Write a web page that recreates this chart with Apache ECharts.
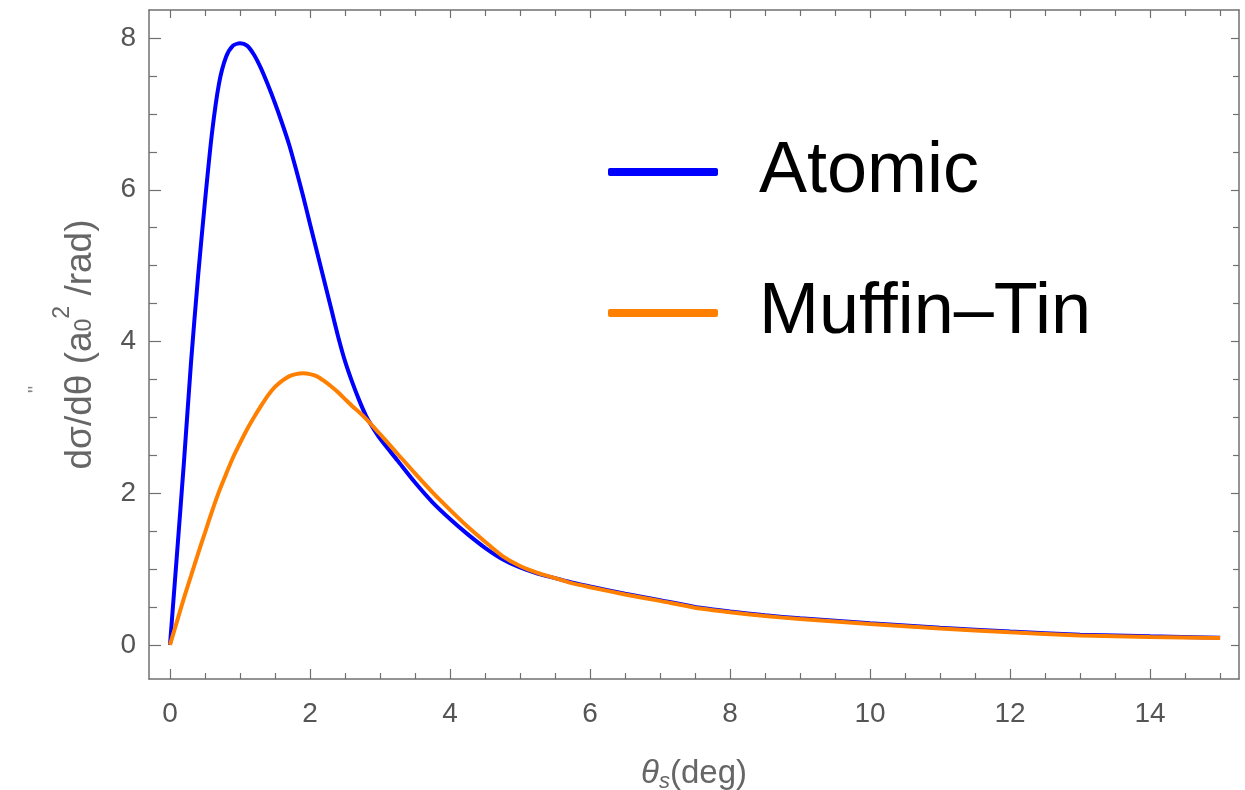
<!DOCTYPE html>
<html>
<head>
<meta charset="utf-8">
<script src="https://cdn.jsdelivr.net/npm/echarts@6/dist/echarts.min.js"></script>
<style>
  html, body { margin: 0; padding: 0; background: #ffffff; }
  #chart { width: 1245px; height: 790px; }
</style>
</head>
<body>
<div id="chart"></div>
<script>
// ---- data ----
const theta = [0, 0.1, 0.2, 0.3, 0.4, 0.5, 0.6, 0.7, 0.8, 0.9,
               1.0, 1.1, 1.2, 1.3, 1.4, 1.5, 1.6, 1.7, 1.8, 1.9,
               2.0, 2.1, 2.2, 2.3, 2.4, 2.5, 2.6, 2.7, 2.8, 2.9,
               3.0, 3.25, 3.5, 3.75, 4.0, 4.25, 4.5, 4.75, 5.0, 5.25,
               5.5, 5.75, 6.0, 6.5, 7.0, 7.5, 8.0, 8.5, 9.0, 10,
               11, 12, 13, 14, 15];
const atomic = [0, 1.2, 2.42, 3.72, 4.85, 5.85, 6.75, 7.4, 7.75, 7.9,
                7.93, 7.9, 7.78, 7.6, 7.38, 7.14, 6.88, 6.6, 6.27, 5.92,
                5.55, 5.18, 4.81, 4.44, 4.07, 3.74, 3.47, 3.23, 3.02, 2.86,
                2.72, 2.43, 2.14, 1.88, 1.66, 1.46, 1.28, 1.13, 1.02, 0.94,
                0.88, 0.82, 0.77, 0.675, 0.59, 0.5, 0.44, 0.39, 0.35, 0.285,
                0.225, 0.175, 0.135, 0.112, 0.095];
const muffinTin = [0, 0.31, 0.62, 0.91, 1.2, 1.48, 1.76, 2.02, 2.25, 2.47,
                   2.66, 2.84, 3.0, 3.15, 3.29, 3.4, 3.48, 3.54, 3.57, 3.58,
                   3.57, 3.54, 3.48, 3.41, 3.33, 3.24, 3.15, 3.07, 2.98, 2.88,
                   2.78, 2.52, 2.26, 2.01, 1.78, 1.56, 1.36, 1.17, 1.04, 0.95,
                   0.88, 0.81, 0.76, 0.665, 0.58, 0.49, 0.43, 0.38, 0.34, 0.275,
                   0.215, 0.165, 0.125, 0.105, 0.09];
const seriesNames = ['Atomic', 'Muffin\u2013Tin'];
const xMajorTicks = [0, 2, 4, 6, 8, 10, 12, 14];
const xMinorTicks = [0.5, 1, 1.5, 2.5, 3, 3.5, 4.5, 5, 5.5, 6.5, 7, 7.5, 8.5, 9, 9.5, 10.5, 11, 11.5, 12.5, 13, 13.5, 14.5, 15];
const yMajorTicks = [0, 2, 4, 6, 8];
const yMinorTicks = [0.5, 1, 1.5, 2.5, 3, 3.5, 4.5, 5, 5.5, 6.5, 7, 7.5];

// ---- chart ----
const X_MIN = -0.3, X_MAX = 15.27, Y_MIN = -0.45, Y_MAX = 8.37;
const FRAME = '#707070';
const LABEL = '#555555';
const TITLE = '#666666';
const FONT = '"Liberation Sans", Arial, sans-serif';

function pairs(xs, ys) { return xs.map((x, i) => [x, ys[i]]); }

function xAx(pos, ticks, len, showLine, labels, extra) {
  return Object.assign({
    type: 'value', position: pos, min: X_MIN, max: X_MAX, offset: 0,
    axisLine: { show: showLine, onZero: false, lineStyle: { color: FRAME, width: 1.5 } },
    axisTick: { show: true, inside: true, length: len, customValues: ticks, lineStyle: { color: FRAME, width: 1.2 } },
    axisLabel: labels ? { show: true, customValues: ticks, color: LABEL, fontSize: 28, fontFamily: FONT, margin: 21 } : { show: false },
    splitLine: { show: false }, minorTick: { show: false }
  }, extra || {});
}
function yAx(pos, ticks, len, showLine, labels, extra) {
  return Object.assign({
    type: 'value', position: pos, min: Y_MIN, max: Y_MAX, offset: 0,
    axisLine: { show: showLine, onZero: false, lineStyle: { color: FRAME, width: 1.5 } },
    axisTick: { show: true, inside: true, length: len, customValues: ticks, lineStyle: { color: FRAME, width: 1.2 } },
    axisLabel: labels ? { show: true, customValues: ticks, color: LABEL, fontSize: 28, fontFamily: FONT, margin: 13 } : { show: false },
    splitLine: { show: false }, minorTick: { show: false }
  }, extra || {});
}

const chart = echarts.init(document.getElementById('chart'), null, { renderer: 'canvas' });
chart.setOption({
  animation: false,
  backgroundColor: '#ffffff',
  grid: { left: 149, top: 10, right: 6, bottom: 111, containLabel: false, outerBoundsMode: 'none' },
  legend: {
    orient: 'vertical', left: 603, top: 127, itemWidth: 110, itemHeight: 8, itemGap: 61,
    icon: 'roundRect', selectedMode: false,
    textStyle: { fontSize: 72, lineHeight: 80, color: '#000000', fontFamily: FONT, padding: [0, 0, 0, 36] },
    data: seriesNames
  },
  xAxis: [
    xAx('bottom', xMajorTicks, 10, true, true, {
      name: '{t|\u03b8}{s|s}{d|(deg)}', nameLocation: 'middle', nameGap: 76,
      nameTextStyle: {
        color: TITLE, fontFamily: FONT,
        rich: {
          t: { fontSize: 33, lineHeight: 38, fontStyle: 'italic', color: TITLE, fontFamily: FONT },
          s: { fontSize: 22, lineHeight: 21, fontStyle: 'italic', verticalAlign: 'bottom', color: TITLE, fontFamily: FONT },
          d: { fontSize: 33, lineHeight: 38, color: TITLE, fontFamily: FONT }
        }
      }
    }),
    xAx('bottom', xMinorTicks, 6, false, false),
    xAx('top', xMajorTicks, 8, true, false),
    xAx('top', xMinorTicks, 6, false, false)
  ],
  yAxis: [
    yAx('left', yMajorTicks, 12, true, true, {
      name: '{m|d\u03c3/d\u03b8 (a}{sub|0}{sup|2}{m| /rad)}', nameLocation: 'middle', nameGap: 38, nameRotate: 90,
      nameTextStyle: {
        color: TITLE, fontFamily: FONT,
        rich: {
          m: { fontSize: 37, lineHeight: 60, color: TITLE, fontFamily: FONT },
          sub: { fontSize: 23, lineHeight: 23, padding: [8, 0, 0, 0], color: TITLE, fontFamily: FONT },
          sup: { fontSize: 23, lineHeight: 23, verticalAlign: 'top', color: TITLE, fontFamily: FONT }
        }
      }
    }),
    yAx('left', yMinorTicks, 8, false, false),
    yAx('right', yMajorTicks, 8, true, false),
    yAx('right', yMinorTicks, 6, false, false)
  ],
  graphic: [{
    type: 'text', x: 26, y: 393, rotation: Math.PI / 2,
    style: { text: '"', fontSize: 20, fill: '#888888', fontFamily: FONT }
  }],
  series: [
    {
      name: seriesNames[0], type: 'line', xAxisIndex: 0, yAxisIndex: 0,
      data: pairs(theta, atomic), showSymbol: false, smooth: 0.25,
      color: '#0000ff', lineStyle: { color: '#0000ff', width: 4 }, itemStyle: { color: '#0000ff' }, z: 2
    },
    {
      name: seriesNames[1], type: 'line', xAxisIndex: 0, yAxisIndex: 0,
      data: pairs(theta, muffinTin), showSymbol: false, smooth: 0.25,
      color: '#ff8000', lineStyle: { color: '#ff8000', width: 4 }, itemStyle: { color: '#ff8000' }, z: 3
    }
  ]
});
</script>
</body>
</html>
